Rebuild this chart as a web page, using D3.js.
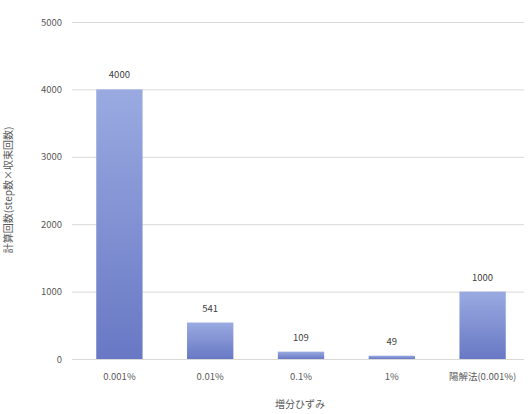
<!DOCTYPE html>
<html><head><meta charset="utf-8">
<script src="https://cdn.jsdelivr.net/npm/d3@7"></script>
<style>body{margin:0;background:#fff}text{font-family:"Noto Sans CJK JP","Open Sans",sans-serif}</style>
</head><body><svg id="c" width="528" height="414"></svg>
<script>
const categories = ["0.001%","0.01%","0.1%","1%","陽解法(0.001%)"];
const values = [4000,541,109,49,1000];
const yTicks = [0,1000,2000,3000,4000,5000];
const yTitle = "計算回数(step数×収束回数)";
const xTitle = "増分ひずみ";

const svg = d3.select("#c");
const x = d3.scaleBand().domain(categories).range([74,528]).paddingInner(0.49).paddingOuter(0.245);
const y = d3.scaleLinear().domain([0,5000]).range([359,22]);

const defs = svg.append("defs");
const g = defs.append("linearGradient").attr("id","bg").attr("x1",0).attr("y1",0).attr("x2",0).attr("y2",1);
g.append("stop").attr("offset","0%").attr("stop-color","#9aaae1");
g.append("stop").attr("offset","100%").attr("stop-color","#6878c4");

const ya = svg.append("g").attr("transform","translate(72,0)")
  .call(d3.axisLeft(y).tickValues(yTicks).tickSize(-452).tickPadding(10).tickFormat(d3.format("d")));
ya.select(".domain").remove();
ya.selectAll(".tick line").attr("stroke","#d9d9d9");
ya.selectAll(".tick text").attr("fill","#595959").attr("font-size",9.5);

svg.append("g").selectAll("rect").data(values).join("rect")
  .attr("x",(d,i)=>x(categories[i])).attr("width",x.bandwidth())
  .attr("y",d=>y(d)).attr("height",d=>y(0)-y(d)).attr("fill","url(#bg)");

svg.append("g").selectAll("text").data(values).join("text")
  .attr("x",(d,i)=>x(categories[i])+x.bandwidth()/2).attr("y",d=>y(d)-11)
  .attr("text-anchor","middle").attr("fill","#404040").attr("font-size",9.5).text(d=>d);

const xa = svg.append("g").attr("transform","translate(0,359)")
  .call(d3.axisBottom(x).tickSize(0).tickPadding(14));
xa.select(".domain").remove();
xa.selectAll(".tick text").attr("fill","#595959").attr("font-size",9.5);

svg.append("text").attr("x",300).attr("y",408).attr("text-anchor","middle")
  .attr("fill","#595959").attr("font-size",10).text(xTitle);
svg.append("text").attr("transform","translate(12,190) rotate(-90)").attr("text-anchor","middle")
  .attr("fill","#595959").attr("font-size",10).text(yTitle);
</script></body></html>
